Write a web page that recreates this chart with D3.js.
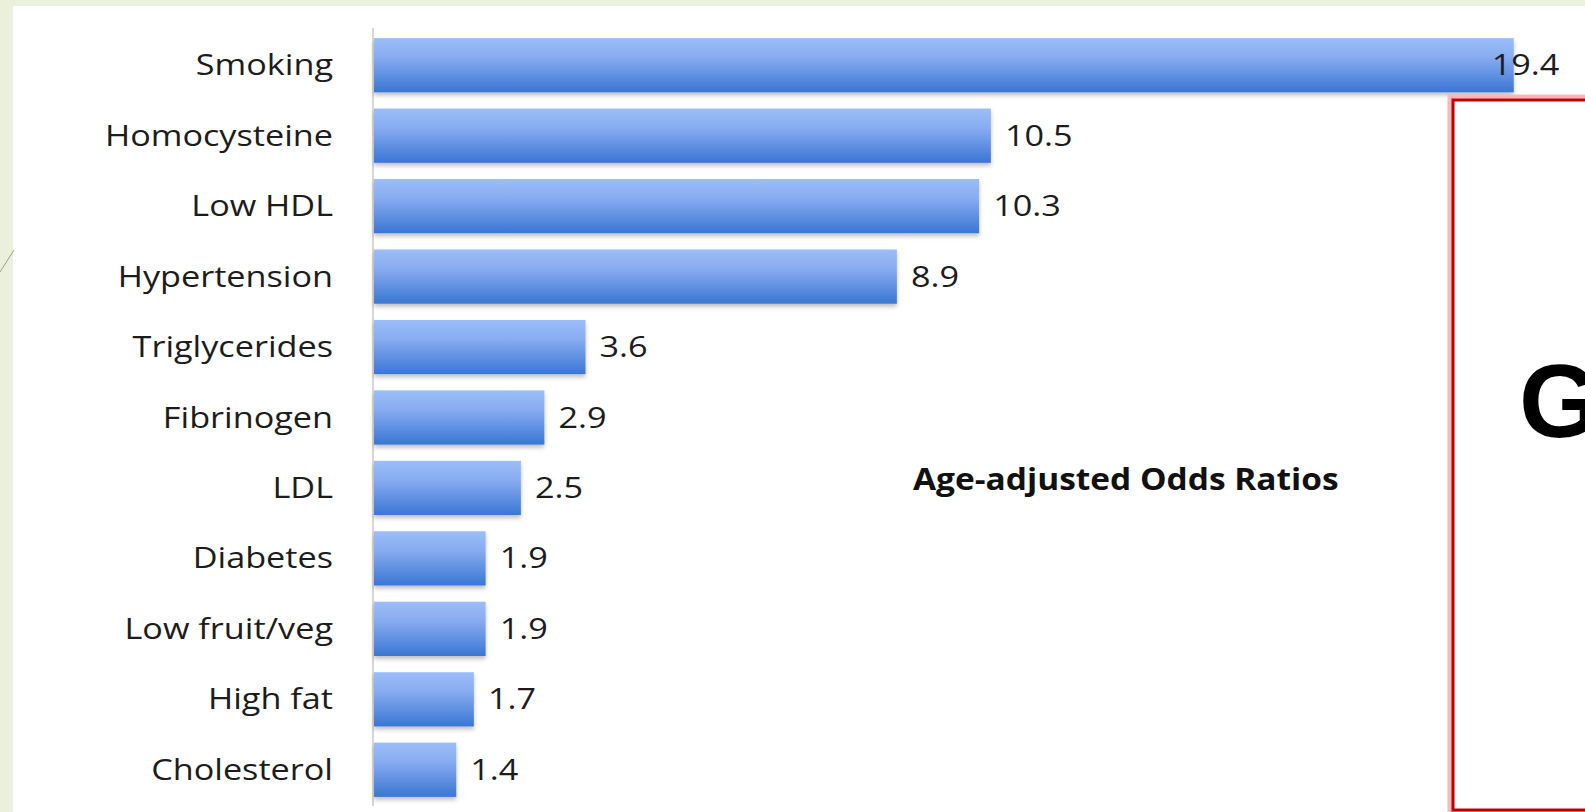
<!DOCTYPE html>
<html>
<head>
<meta charset="utf-8">
<script src="https://cdn.jsdelivr.net/npm/d3@7"></script>
<style>
  html, body { margin: 0; padding: 0; background: #ebf0dd; }
  svg { display: block; }
  .cat, .val { font-family: "Open Sans", sans-serif; font-size: 29px; fill: #1c1c1c; }
  .note { font-family: "Open Sans", sans-serif; font-size: 31px; font-weight: 700; fill: #111; }
  .big { font-family: "Liberation Sans", Arial, sans-serif; font-size: 104px; font-weight: 700; fill: #000; }
</style>
</head>
<body>
<svg id="chart" width="1585" height="812"></svg>
<script>
// Age-adjusted odds ratios by risk factor
const categories = ['Smoking', 'Homocysteine', 'Low HDL', 'Hypertension', 'Triglycerides',
  'Fibrinogen', 'LDL', 'Diabetes', 'Low fruit/veg', 'High fat', 'Cholesterol'];
const odds = [19.4, 10.5, 10.3, 8.9, 3.6, 2.9, 2.5, 1.9, 1.9, 1.7, 1.4];
const noteText = 'Age-adjusted Odds Ratios';

const W = 1585, H = 812;
const SX = 1.18; // source picture is stretched horizontally
const svg = d3.select('#chart');

// white slide panel over the green frame
svg.append('rect').attr('x', 13).attr('y', 6).attr('width', W - 13).attr('height', H - 6).attr('fill', '#fff');
svg.append('line').attr('x1', 14).attr('y1', 250).attr('x2', 0).attr('y2', 272)
  .attr('stroke', '#9aa08c').attr('stroke-width', 1);

const defs = svg.append('defs');
const grad = defs.append('linearGradient').attr('id', 'barGrad').attr('x1', 0).attr('y1', 0).attr('x2', 0).attr('y2', 1);
grad.append('stop').attr('offset', '0%').attr('stop-color', '#9cbdf8');
grad.append('stop').attr('offset', '35%').attr('stop-color', '#88acf1');
grad.append('stop').attr('offset', '100%').attr('stop-color', '#3a76d4');
const blur = defs.append('filter').attr('id', 'shadow').attr('x', '-5%').attr('y', '-10%').attr('width', '110%').attr('height', '130%');
blur.append('feDropShadow').attr('dx', 0).attr('dy', 3).attr('stdDeviation', 2).attr('flood-color', '#000').attr('flood-opacity', 0.25);

const y = d3.scaleBand().domain(categories).range([30, 805]).paddingInner(0.23).paddingOuter(0.115);
const x = d3.scaleLinear().domain([0, 20]).range([374, 1549]);

// category axis line
svg.append('line').attr('x1', x(0) - 1).attr('x2', x(0) - 1).attr('y1', 28).attr('y2', 806)
  .attr('stroke', '#bdbdbd').attr('stroke-width', 1.2);

const rows = categories.map((c, i) => ({ c, v: odds[i] }));

svg.append('g').selectAll('rect').data(rows).join('rect')
  .attr('x', x(0)).attr('y', d => y(d.c))
  .attr('width', d => x(d.v) - x(0)).attr('height', y.bandwidth())
  .attr('fill', 'url(#barGrad)').attr('filter', 'url(#shadow)');

svg.append('g').selectAll('text').data(rows).join('text')
  .attr('class', 'cat').attr('text-anchor', 'end')
  .attr('transform', d => `translate(333,${y(d.c) + y.bandwidth() / 2 + 10}) scale(${SX},1)`)
  .text(d => d.c);

const maxV = d3.max(odds);
svg.append('g').selectAll('text').data(rows).join('text')
  .attr('class', 'val')
  .attr('transform', d => `translate(${d.v === maxV ? x(d.v) - 22 : x(d.v) + 14},${y(d.c) + y.bandwidth() / 2 + 10}) scale(${SX},1)`)
  .text(d => d.v.toFixed(1));

svg.append('text').attr('class', 'note')
  .attr('transform', 'translate(913,490) scale(1.08,1)')
  .text(noteText);

// red outlined box on the right (the big letter runs off the slide edge)
const box = svg.append('g');
box.append('rect').attr('x', 1453).attr('y', 100).attr('width', 300).attr('height', 710)
  .attr('fill', 'none').attr('stroke', '#f6b8b8').attr('stroke-width', 11);
box.append('rect').attr('x', 1453).attr('y', 100).attr('width', 300).attr('height', 710)
  .attr('fill', '#fff').attr('stroke', '#c00000').attr('stroke-width', 3);
box.append('text').attr('class', 'big').attr('x', 1519).attr('y', 437).text('G');
</script>
</body>
</html>
